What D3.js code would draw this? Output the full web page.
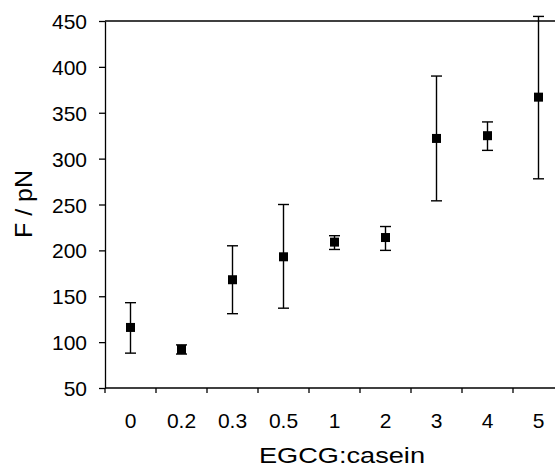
<!DOCTYPE html>
<html>
<head>
<meta charset="utf-8">
<script src="https://cdn.jsdelivr.net/npm/d3@7"></script>
<style>
  body { margin: 0; background: #fff; }
  svg { display: block; font-family: Arial, "Liberation Sans", sans-serif; }
  .axis path, .axis line { stroke: #000; stroke-width: 1.3; }
  .axis text { font-size: 21px; fill: #000; }
</style>
</head>
<body>
<div id="chart"></div>
<script>
// EGCG:casein ratio vs rupture force
const categories = ["0", "0.2", "0.3", "0.5", "1", "2", "3", "4", "5"];
const means = [116, 92, 168, 193, 209, 214, 322, 325, 367];
const lower = [88, 87, 131, 137, 201, 200, 254, 309, 278];
const upper = [143, 97, 205, 250, 216, 226, 390, 340, 455];
const yTicks = [50, 100, 150, 200, 250, 300, 350, 400, 450];

const width = 555, height = 468;

const svg = d3.select("#chart")
    .append("svg")
    .attr("width", width)
    .attr("height", height);

const x = d3.scaleBand()
    .domain(categories)
    .range([105, 564])
    .padding(0);

const y = d3.scaleLinear()
    .domain([50, 450])
    .range([388, 21]);

// y axis
const yAxis = svg.append("g")
    .attr("class", "axis")
    .attr("transform", "translate(105,0)")
    .call(d3.axisLeft(y).tickValues(yTicks).tickSize(6).tickPadding(12).tickSizeOuter(0));
yAxis.selectAll("text").attr("dy", "0.36em");

// x axis (labels centred in bands, ticks on band edges)
const xAxis = svg.append("g")
    .attr("class", "axis")
    .attr("transform", "translate(0,388)")
    .call(d3.axisBottom(x).tickSize(0).tickPadding(25).tickSizeOuter(0));
xAxis.select(".domain").remove();
xAxis.append("line")
    .attr("x1", 105).attr("x2", width)
    .attr("stroke", "#000").attr("stroke-width", 1.3);
xAxis.selectAll(".edge")
    .data(categories)
    .enter().append("line")
    .attr("class", "edge")
    .attr("x1", d => x(d)).attr("x2", d => x(d))
    .attr("y1", 0).attr("y2", 5)
    .attr("stroke", "#000").attr("stroke-width", 1);

// top frame line
svg.append("line")
    .attr("x1", 105).attr("x2", width)
    .attr("y1", y(450)).attr("y2", y(450))
    .attr("stroke", "#000").attr("stroke-width", 1.3);

// error bars
const cx = d => x(d) + x.bandwidth() / 2;
const bars = svg.append("g").selectAll("g")
    .data(categories)
    .enter().append("g");

bars.append("line")
    .attr("x1", cx).attr("x2", cx)
    .attr("y1", (d, i) => y(lower[i]))
    .attr("y2", (d, i) => y(upper[i]))
    .attr("stroke", "#000").attr("stroke-width", 1.4);
bars.append("line")
    .attr("x1", d => cx(d) - 5.5).attr("x2", d => cx(d) + 5.5)
    .attr("y1", (d, i) => y(upper[i])).attr("y2", (d, i) => y(upper[i]))
    .attr("stroke", "#000").attr("stroke-width", 1.4);
bars.append("line")
    .attr("x1", d => cx(d) - 5.5).attr("x2", d => cx(d) + 5.5)
    .attr("y1", (d, i) => y(lower[i])).attr("y2", (d, i) => y(lower[i]))
    .attr("stroke", "#000").attr("stroke-width", 1.4);

// square markers
bars.append("rect")
    .attr("x", d => cx(d) - 4.5)
    .attr("y", (d, i) => y(means[i]) - 4.5)
    .attr("width", 9).attr("height", 9)
    .attr("fill", "#000");

// axis titles
svg.append("text")
    .attr("x", 342).attr("y", 463)
    .attr("text-anchor", "middle")
    .attr("font-size", 22)
    .attr("textLength", 166)
    .attr("lengthAdjust", "spacingAndGlyphs")
    .text("EGCG:casein");

svg.append("text")
    .attr("transform", "translate(32,204) rotate(-90)")
    .attr("text-anchor", "middle")
    .attr("font-size", 24)
    .attr("textLength", 68)
    .attr("lengthAdjust", "spacingAndGlyphs")
    .text("F / pN");
</script>
</body>
</html>
